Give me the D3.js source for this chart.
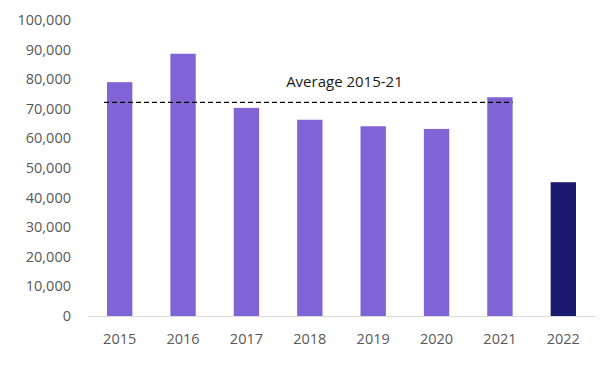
<!DOCTYPE html>
<html>
<head>
  <meta charset="utf-8">
  <script src="https://d3js.org/d3.v7.min.js"></script>
  <style>
  body { margin: 0; background: #fff; }
  text { font-family: "Open Sans", sans-serif; }
  </style>
</head>
<body>
<svg id="chart" width="604" height="368"></svg>
<script>
// values
var years = ["2015", "2016", "2017", "2018", "2019", "2020", "2021", "2022"];
var values = [79000, 88600, 70300, 66300, 64100, 63200, 73900, 45200];
var yTicks = [0, 10000, 20000, 30000, 40000, 50000, 60000, 70000, 80000, 90000, 100000];
var avgLabel = "Average 2015-21";

var svg = d3.select("#chart");
var margin = { top: 20, right: 9, bottom: 52, left: 88 };
var width = +svg.attr("width") - margin.left - margin.right;
var height = +svg.attr("height") - margin.top - margin.bottom;

var g = svg.append("g")
    .attr("transform", "translate(" + margin.left + "," + margin.top + ")");

var x = d3.scaleBand()
    .domain(years)
    .range([0, width])
    .paddingInner(0.6)
    .paddingOuter(0.3);

var y = d3.scaleLinear()
    .domain([0, 100000])
    .range([height, 0]);

var fmt = d3.format(",");

// y tick labels (no axis line)
g.append("g")
    .selectAll("text")
    .data(yTicks)
    .enter().append("text")
      .attr("x", -17)
      .attr("y", function(d) { return y(d); })
      .attr("dy", "0.35em")
      .attr("text-anchor", "end")
      .attr("fill", "#595959")
      .attr("font-size", "14.5px")
      .text(function(d) { return fmt(d); });

// bars
g.append("g")
    .selectAll("rect")
    .data(values)
    .enter().append("rect")
      .attr("x", function(d, i) { return x(years[i]); })
      .attr("y", function(d) { return y(d); })
      .attr("width", x.bandwidth())
      .attr("height", function(d) { return height - y(d); })
      .attr("fill", function(d, i) { return years[i] === "2022" ? "#1c1a6f" : "#8064d6"; });

// x axis
var xAxis = g.append("g")
    .attr("transform", "translate(0," + height + ")")
    .call(d3.axisBottom(x).tickSize(0).tickPadding(18));
xAxis.select(".domain").attr("stroke", "#d9d9d9");
xAxis.selectAll("text")
    .attr("fill", "#595959")
    .attr("font-size", "14.5px")
    .attr("font-family", "Open Sans, sans-serif");

// average line over 2015-21
var hist = values.slice(0, 7);
var avg = d3.mean(hist);
var x0 = x("2015") - 3;
var x1 = x("2021") + x.bandwidth();
g.append("line")
    .attr("x1", x0)
    .attr("x2", x1)
    .attr("y1", y(avg))
    .attr("y2", y(avg))
    .attr("stroke", "#000")
    .attr("stroke-width", 1.3)
    .attr("stroke-dasharray", "5,3");

g.append("text")
    .attr("x", x("2018") - 11)
    .attr("y", y(avg) - 15)
    .attr("text-anchor", "start")
    .attr("fill", "#1a1a1a")
    .attr("font-size", "15px")
    .text(avgLabel);
</script>
</body>
</html>
